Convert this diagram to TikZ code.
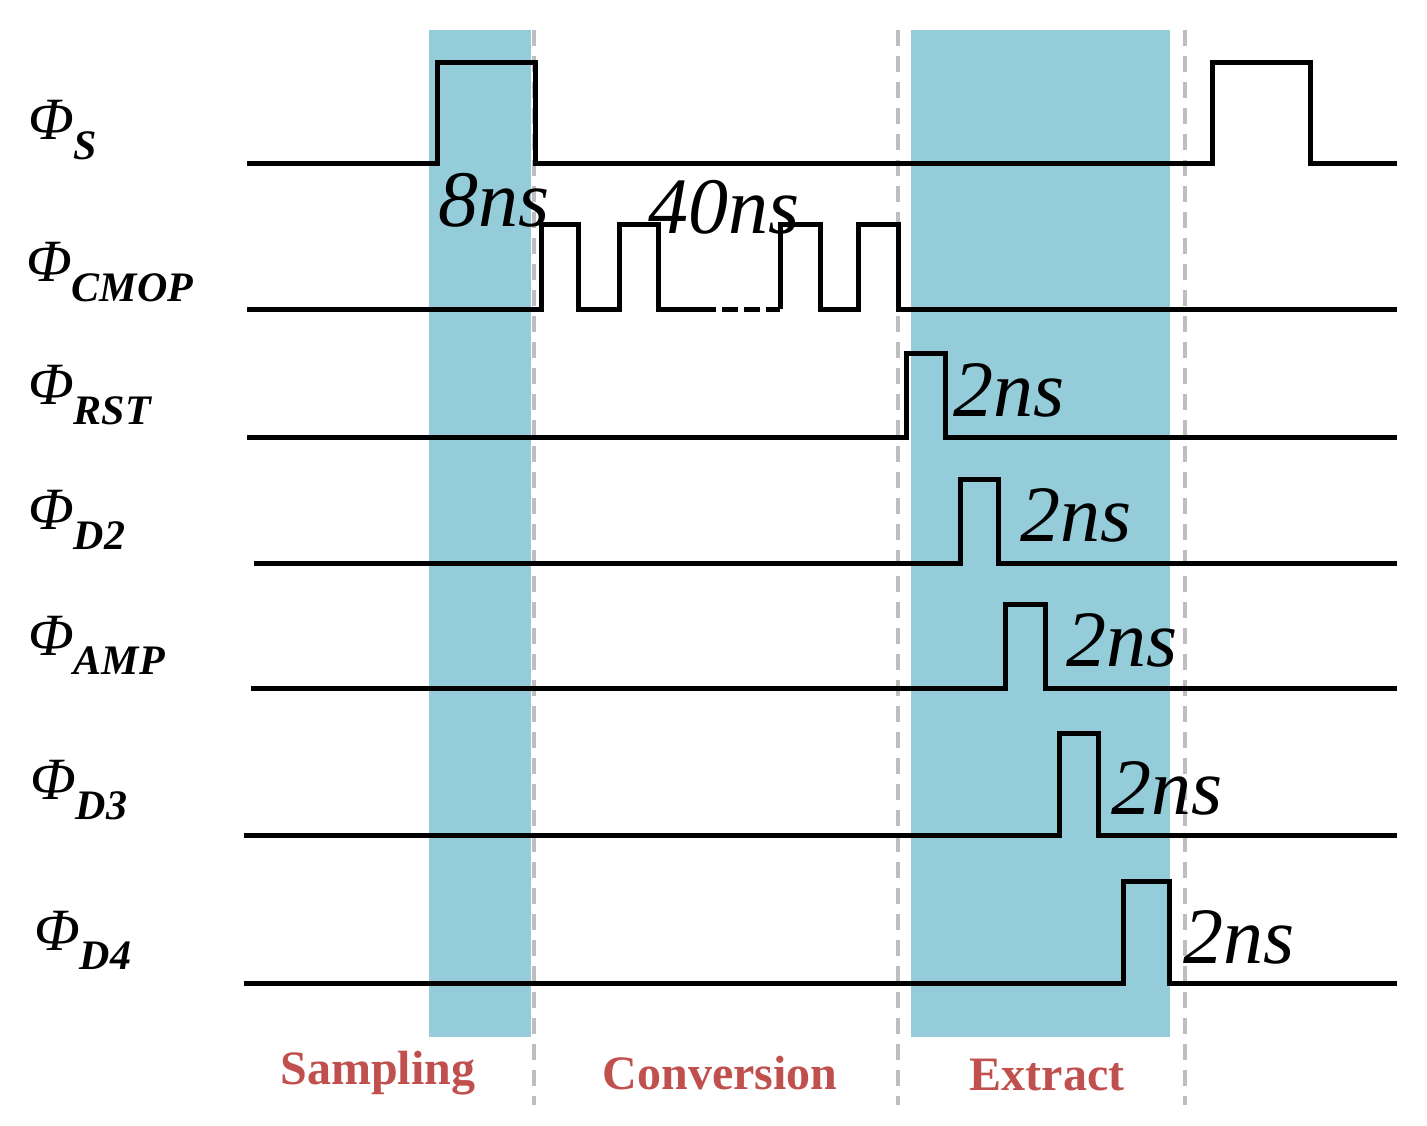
\documentclass[tikz,border=0pt]{standalone}
\usepackage{fontspec}
\setmainfont{Liberation Serif}
\begin{document}
\begin{tikzpicture}[x=1pt,y=-1pt,
  sig/.style={line width=5pt,line join=miter},
  sep/.style={line width=4pt,draw={rgb,255:red,190;green,190;blue,190},dash pattern=on 16pt off 10pt},
  lab/.style={font=\fontsize{60}{62}\selectfont\itshape,anchor=west,inner sep=0},
  ns/.style={font=\fontsize{80}{82}\selectfont\itshape,anchor=west,inner sep=0},
  ph/.style={font=\fontsize{48}{50}\selectfont\bfseries,text={rgb,255:red,192;green,80;blue,77},inner sep=0}]
\useasboundingbox (0,0) rectangle (1427,1126);
\definecolor{bandblue}{RGB}{148,204,218}
\fill[bandblue] (429,30) rectangle (531,1037);
\fill[bandblue] (911,30) rectangle (1170,1037);
\draw[sep] (534,30) -- (534,1105);
\draw[sep] (898,30) -- (898,1105);
\draw[sep] (1185,30) -- (1185,1105);
% signals
\draw[sig] (247,164) -- (437,164) -- (437,63) -- (535,63) -- (535,164) -- (1212,164) -- (1212,63) -- (1310,63) -- (1310,164) -- (1397,164);
\draw[sig] (247,309) -- (541,309) -- (541,225) -- (578,225) -- (578,309) -- (619,309) -- (619,225) -- (658,225) -- (658,309) -- (700,309);
\draw[sig,dash pattern=on 16pt off 6pt] (700,309) -- (780,309);
\draw[sig] (780,309) -- (780,225) -- (820,225) -- (820,309) -- (858,309) -- (858,225) -- (898,225) -- (898,309) -- (1397,309);
\draw[sig] (247,437) -- (906,437) -- (906,353) -- (945,353) -- (945,437) -- (1397,437);
\draw[sig] (254,563) -- (960,563) -- (960,479) -- (998,479) -- (998,563) -- (1397,563);
\draw[sig] (251,688) -- (1005,688) -- (1005,604) -- (1045,604) -- (1045,688) -- (1397,688);
\draw[sig] (244,835) -- (1059,835) -- (1059,733) -- (1098,733) -- (1098,835) -- (1397,835);
\draw[sig] (244,983) -- (1123,983) -- (1123,881) -- (1169,881) -- (1169,983) -- (1397,983);
% names
\node[lab] (ls) at (28,130) {Φ\textsubscript{\textbf{S}}};
\node[lab] (lc) at (26,272) {Φ\textsubscript{\textbf{CMOP}}};
\node[lab] (lr) at (28,395) {Φ\textsubscript{\textbf{RST}}};
\node[lab] (l2) at (28,520) {Φ\textsubscript{\textbf{D2}}};
\node[lab] (la) at (28,645) {Φ\textsubscript{\textbf{AMP}}};
\node[lab] (l3) at (30,790) {Φ\textsubscript{\textbf{D3}}};
\node[lab] (l4) at (34,940) {Φ\textsubscript{\textbf{D4}}};
% durations
\node[ns] (n8) at (438,200) {8ns};
\node[ns] (n40) at (648,207) {40ns};
\node[ns] (r1) at (953,390) {2ns};
\node[ns] (r2) at (1020,515) {2ns};
\node[ns] (r3) at (1066,640) {2ns};
\node[ns] (r4) at (1111,788) {2ns};
\node[ns] (r5) at (1183,937) {2ns};
% phases
\node[ph] (p1) at (378,1073) {Sampling};
\node[ph] (p2) at (720,1073) {Conversion};
\node[ph] (p3) at (1047,1075) {Extract};
\end{tikzpicture}
\end{document}
